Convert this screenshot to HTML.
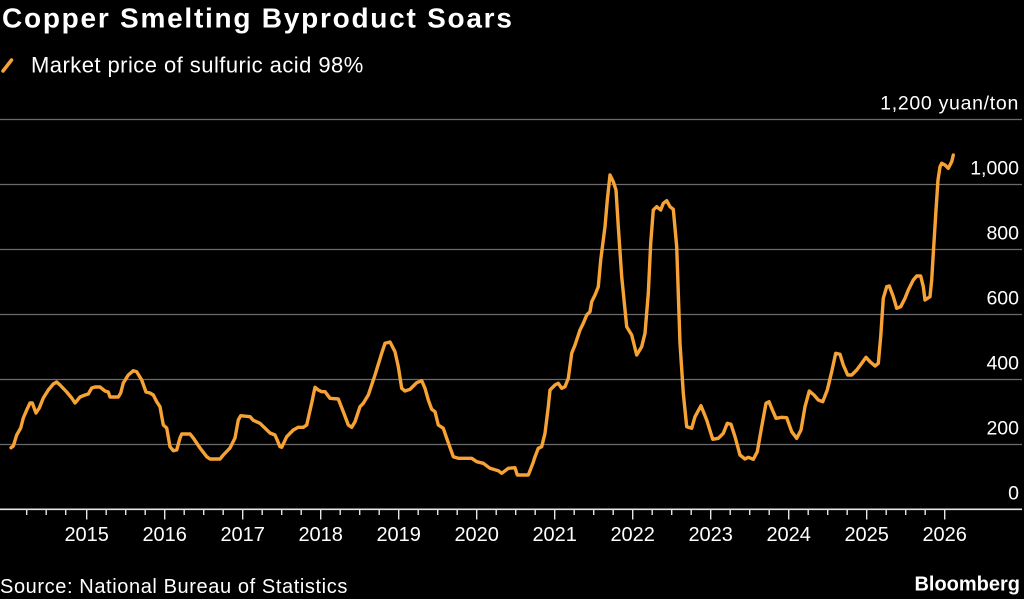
<!DOCTYPE html>
<html><head><meta charset="utf-8"><style>
html,body{margin:0;padding:0;background:#000;}
svg{display:block;}
text{font-family:"Liberation Sans",Arial,sans-serif;fill:#fff;}
</style></head><body>
<svg width="1024" height="599" viewBox="0 0 1024 599" xmlns="http://www.w3.org/2000/svg">
<rect width="1024" height="599" fill="#000"/>
<text x="2" y="27.5" font-size="28" font-weight="bold" letter-spacing="1.75">Copper Smelting Byproduct Soars</text>
<line x1="3" y1="71" x2="11.5" y2="60" stroke="#f6a234" stroke-width="3.5" stroke-linecap="round"/>
<text x="31" y="72.5" font-size="22" letter-spacing="0.45" fill="#eee">Market price of sulfuric acid 98%</text>
<g stroke="#6b6b6b" stroke-width="1.3">
<line x1="0" y1="119.5" x2="1022" y2="119.5"/>
<line x1="0" y1="184.5" x2="1022" y2="184.5"/>
<line x1="0" y1="249.5" x2="1022" y2="249.5"/>
<line x1="0" y1="314.5" x2="1022" y2="314.5"/>
<line x1="0" y1="379.5" x2="1022" y2="379.5"/>
<line x1="0" y1="444.5" x2="1022" y2="444.5"/>
</g>
<g font-size="19.5" text-anchor="end" fill="#eee">
<text x="1019" y="109.5" letter-spacing="0.7">1,200 yuan/ton</text>
<text x="1019" y="174.5">1,000</text>
<text x="1019" y="239.5">800</text>
<text x="1019" y="304.5">600</text>
<text x="1019" y="369.5">400</text>
<text x="1019" y="434.5">200</text>
<text x="1019" y="499.5">0</text>
</g>
<line x1="0" y1="509.3" x2="1022" y2="509.3" stroke="#e6e6e6" stroke-width="1.6"/>
<g stroke="#e6e6e6" stroke-width="1.4">
<line x1="26.7" y1="509" x2="26.7" y2="515"/><line x1="46.2" y1="509" x2="46.2" y2="515"/><line x1="65.7" y1="509" x2="65.7" y2="515"/>
<line x1="86.7" y1="509" x2="86.7" y2="519.5"/>
<line x1="106.2" y1="509" x2="106.2" y2="515"/><line x1="125.7" y1="509" x2="125.7" y2="515"/><line x1="145.2" y1="509" x2="145.2" y2="515"/>
<line x1="164.7" y1="509" x2="164.7" y2="519.5"/>
<line x1="184.2" y1="509" x2="184.2" y2="515"/><line x1="203.7" y1="509" x2="203.7" y2="515"/><line x1="223.2" y1="509" x2="223.2" y2="515"/>
<line x1="242.7" y1="509" x2="242.7" y2="519.5"/>
<line x1="262.2" y1="509" x2="262.2" y2="515"/><line x1="281.7" y1="509" x2="281.7" y2="515"/><line x1="301.2" y1="509" x2="301.2" y2="515"/>
<line x1="320.7" y1="509" x2="320.7" y2="519.5"/>
<line x1="340.2" y1="509" x2="340.2" y2="515"/><line x1="359.7" y1="509" x2="359.7" y2="515"/><line x1="379.2" y1="509" x2="379.2" y2="515"/>
<line x1="398.7" y1="509" x2="398.7" y2="519.5"/>
<line x1="418.2" y1="509" x2="418.2" y2="515"/><line x1="437.7" y1="509" x2="437.7" y2="515"/><line x1="457.2" y1="509" x2="457.2" y2="515"/>
<line x1="476.7" y1="509" x2="476.7" y2="519.5"/>
<line x1="496.2" y1="509" x2="496.2" y2="515"/><line x1="515.7" y1="509" x2="515.7" y2="515"/><line x1="535.2" y1="509" x2="535.2" y2="515"/>
<line x1="554.7" y1="509" x2="554.7" y2="519.5"/>
<line x1="574.2" y1="509" x2="574.2" y2="515"/><line x1="593.7" y1="509" x2="593.7" y2="515"/><line x1="613.2" y1="509" x2="613.2" y2="515"/>
<line x1="632.7" y1="509" x2="632.7" y2="519.5"/>
<line x1="652.2" y1="509" x2="652.2" y2="515"/><line x1="671.7" y1="509" x2="671.7" y2="515"/><line x1="691.2" y1="509" x2="691.2" y2="515"/>
<line x1="710.7" y1="509" x2="710.7" y2="519.5"/>
<line x1="730.2" y1="509" x2="730.2" y2="515"/><line x1="749.7" y1="509" x2="749.7" y2="515"/><line x1="769.2" y1="509" x2="769.2" y2="515"/>
<line x1="788.7" y1="509" x2="788.7" y2="519.5"/>
<line x1="808.2" y1="509" x2="808.2" y2="515"/><line x1="827.7" y1="509" x2="827.7" y2="515"/><line x1="847.2" y1="509" x2="847.2" y2="515"/>
<line x1="866.7" y1="509" x2="866.7" y2="519.5"/>
<line x1="886.2" y1="509" x2="886.2" y2="515"/><line x1="905.7" y1="509" x2="905.7" y2="515"/><line x1="925.2" y1="509" x2="925.2" y2="515"/>
<line x1="944.7" y1="509" x2="944.7" y2="519.5"/>
</g>
<g font-size="20" text-anchor="middle" fill="#eee">
<text x="86.7" y="541">2015</text>
<text x="164.7" y="541">2016</text>
<text x="242.7" y="541">2017</text>
<text x="320.7" y="541">2018</text>
<text x="398.7" y="541">2019</text>
<text x="476.7" y="541">2020</text>
<text x="554.7" y="541">2021</text>
<text x="632.7" y="541">2022</text>
<text x="710.7" y="541">2023</text>
<text x="788.7" y="541">2024</text>
<text x="866.7" y="541">2025</text>
<text x="944.7" y="541">2026</text>
</g>
<polyline fill="none" stroke="#f6a234" stroke-width="3.4" stroke-linejoin="round" stroke-linecap="round" points="11,447.7 13.3,446 16.7,435 20.7,428 23.3,418 26.7,410 30,403 32.3,403 36,413 39.3,408 43.3,398 48.3,390 53.3,384 56.7,382 60,385 66.7,392 71.7,398 75,403 80,397 85,395 88.3,394 91.7,388 95,387 100,387 105,391 108.3,392 110,397 118.3,397 120.7,393 123.3,383 128.3,375 133.3,370.7 136.7,371.7 141.7,380 146,392 150,393 153.3,395 156.7,401.7 160,406.7 163.3,425 166.7,428 170,446.7 173.3,450.7 176.7,450 180,438 181.7,434 190,434 193.3,438 200,448 206.7,456.7 210,459 220,459 223.3,455 230,448 235,438 238.3,420 240.7,415.7 250,416.7 253.3,420.3 260,423.3 270,433 275,435 280,446.7 281.7,447.3 286.7,436.7 293.3,430 298.3,427.3 303.3,427.3 306.7,425 311.7,403 315,387.3 318.3,390 321.7,391.7 325,391.7 330,398.3 338.3,399 343.3,411.7 348.3,425 351.7,427.3 355,421.7 360,406.7 363.3,403.3 368.3,395 375,375 381.7,353.3 385,343.3 390,342 395,351.7 398.3,366.7 401.7,388.3 405,391 410,389.3 413.3,386 416.7,382.7 421.7,380.7 425,388.3 428.3,400 431.7,409.3 435,411.7 438.3,425 443.3,428.3 446.7,438.3 453.3,456.7 458.3,458.3 471.7,458.3 476.7,461.7 483.3,463.3 490,468.3 498.3,470.7 501.7,473.3 508.3,468.3 515,467.7 517.3,475 528.3,475 533,463 535,456.7 538.3,448.3 541.7,446.7 545,433.3 548.3,406.7 550,390 555,385 558.3,383.3 561.7,388.3 565,386.7 568.3,378.3 571.7,353.3 575,345 580,330 583.3,323.3 586.7,315 590,311.7 591.7,301.7 595,295 598.3,286.7 600.7,260 605,226.7 607.3,200 610,175 613.3,181.7 616,190 618.3,226.7 621.7,276.7 626.7,326.7 631.7,335 636.7,355 641.7,346.7 645,333.3 648.3,293.3 650.7,243.3 653.3,210 656.7,206.7 660.7,210 663.3,203.3 666.7,200.7 670,206.7 673.3,209.3 676.7,246.7 680,343.3 683.3,393.3 686.7,426.7 691.7,428.3 695,416.7 701,405.7 706.7,420 712.7,439.3 718.3,438.3 723.3,433.3 727.3,423.3 731,424.3 735,436.7 740,455 745,459 748.3,457.3 753.3,459.3 757.3,451.7 761.7,426.7 766,403.3 769,401.7 771.7,408.3 776,418.3 781.7,417.3 786.7,417.7 791.7,431.7 796.7,438.3 801,430 805,406.7 809.3,391 814,395 818.3,400 822.7,401.7 827.3,390 831.7,371.7 835.7,353.3 840,354.3 843.3,365 847.7,375 851.7,375 856.7,370 861.7,363.3 866,357.3 870,361.7 875,366 878.3,363.3 880.7,336.7 883.3,298.3 886.7,286.7 889.3,286 893.3,296.7 896.7,308.3 900.7,306.7 905,298.3 908.3,290 913.3,280 916.7,276 920.7,276 923.3,286.7 925,300 930,296.7 931.7,280 933.3,253.3 936,210 938,180 940,166.7 941.7,163.3 945,165 948.3,168.3 951.7,161.7 953.3,155"/>
<text x="0" y="593" font-size="20" letter-spacing="0.6" fill="#eee">Source: National Bureau of Statistics</text>
<text x="1020" y="590.5" font-size="20" font-weight="bold" text-anchor="end">Bloomberg</text>
</svg>
</body></html>
